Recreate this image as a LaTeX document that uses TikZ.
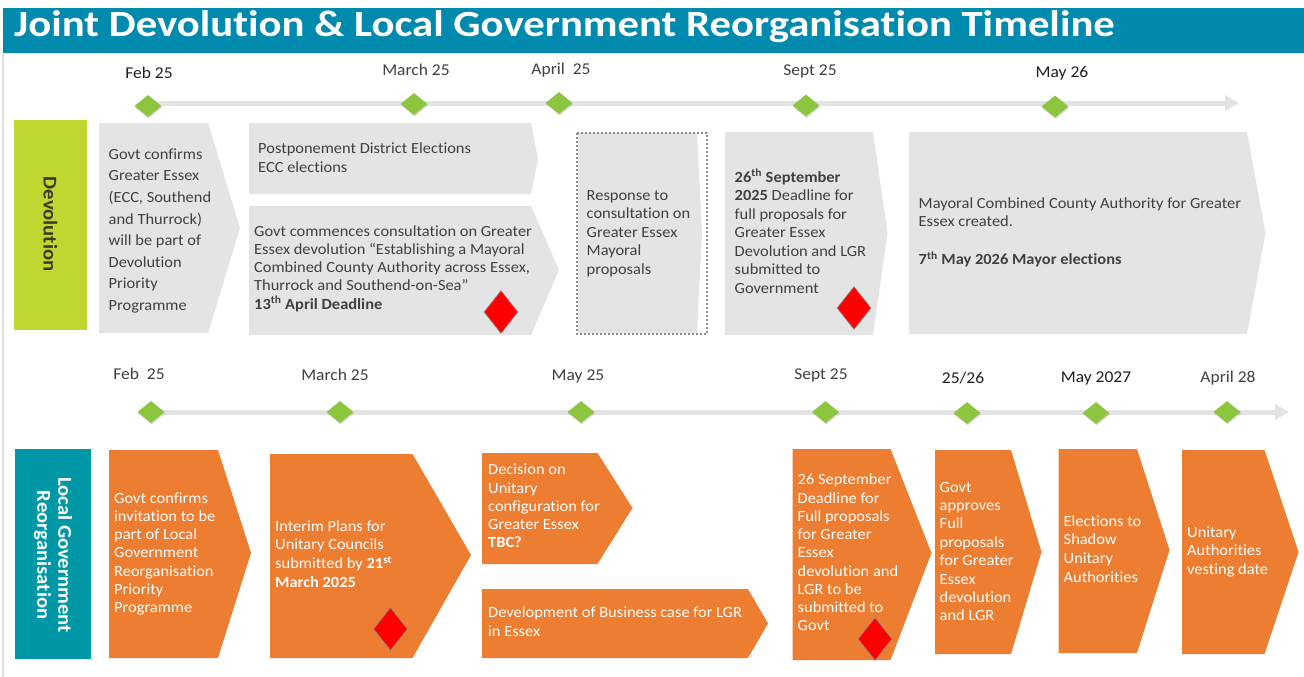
\documentclass[tikz,border=0pt]{standalone}
\usepackage{fontspec}
\setmainfont{Carlito}[FakeStretch=1.06, Ligatures=NoCommon]
\newfontfamily\titlefont{Carlito}[FakeStretch=1.155, Ligatures=NoCommon]
\usetikzlibrary{shapes.geometric,arrows.meta,shadows}
\definecolor{titleteal}{HTML}{008BAE}
\definecolor{lgrteal}{HTML}{0098A6}
\definecolor{devlime}{HTML}{BFD730}
\definecolor{orng}{HTML}{ED7D31}
\definecolor{boxgray}{HTML}{E4E4E4}
\definecolor{txtgray}{HTML}{404040}
\definecolor{darktxt}{HTML}{1F1F1F}
\definecolor{msgreen}{HTML}{8CC63F}
\definecolor{linegray}{HTML}{E3E3E3}
\definecolor{devtext}{HTML}{3E3A22}
\definecolor{dashgray}{HTML}{8C8C8C}
\tikzset{
  grayshape/.style={fill=boxgray},
  orshape/.style={fill=orng},
  gtxt/.style={anchor=north west, inner sep=0pt, align=left, text=txtgray, font=\fontsize{15.5}{18.5}\selectfont},
  otxt/.style={gtxt, text=white},
  datelbl/.style={inner sep=0pt, text=txtgray, font=\fontsize{16.5}{18}\selectfont},
  datedark/.style={datelbl, text=darktxt},
  milestone/.style={diamond, fill=msgreen, minimum width=27pt, minimum height=22pt, inner sep=0pt,
    drop shadow={shadow xshift=0.6pt, shadow yshift=-1.4pt, opacity=0.3}},
  deadline/.style={diamond, fill=red, draw=dashgray, line width=0.6pt, minimum width=34pt, minimum height=43pt, inner sep=0pt},
  tline/.style={draw=linegray, line width=5pt, -{Triangle[length=14pt,width=15pt]}},
  rowlabel/.style={rotate=-90, align=center, inner sep=0pt, font=\bfseries\fontsize{19.5}{21}\selectfont},
}
\begin{document}
\begin{tikzpicture}[x=1pt,y=-1pt]
\useasboundingbox (0,0) rectangle (1304,677);
\fill[white] (0,0) rectangle (1304,677);
% title
\fill[titleteal] (3,8.5) rectangle (1304,53);
\node[anchor=base west, inner sep=0pt, text=white, font=\titlefont\bfseries\fontsize{37}{40}\selectfont] (title) at (14,36.5) {Joint Devolution \& Local Government Reorganisation Timeline};
\draw[line width=2pt, draw=black!12] (3,53) -- (3,677);

% ---------- Devolution row ----------
\fill[devlime] (14,120) rectangle (87,330);
\node[rowlabel, text=devtext] (devlabel) at (50.5,224) {Devolution};

% top timeline
\coordinate (ts) at (148,103);
\coordinate (te) at (1239,103);
\draw[tline] (ts) -- (te);
\node[milestone] (m1) at (148,106) {};
\node[milestone] (m2) at (414,104) {};
\node[milestone] (m3) at (559,103) {};
\node[milestone] (m4) at (806,105.5) {};
\node[milestone] (m5) at (1055,106.5) {};
\node[datedark] (l1) at (149,73) {Feb 25};
\node[datelbl] (l2) at (416,70) {March 25};
\node[datelbl] (l3) at (561,70) {April\ \ 25};
\node[datelbl] (l4) at (810,71) {Sept 25};
\node[datedark] (l5) at (1062,73) {May 26};

% gray boxes
\fill[grayshape] (99,123) -- (208,123) -- (240,228) -- (208,333) -- (99,333) -- cycle;
\node[gtxt, font=\fontsize{15.5}{21.6}\selectfont] (g1) at (108.5,144) {\strut Govt confirms\\Greater Essex\\(ECC, Southend\\and Thurrock)\\will be part of\\Devolution\\Priority\\Programme};

\fill[grayshape] (249,123) -- (531,123) -- (538,159) -- (531,194) -- (249,194) -- cycle;
\node[gtxt, font=\fontsize{15.5}{19}\selectfont] (g2) at (258,140) {\strut Postponement District Elections\\ECC elections};

\fill[grayshape] (249,206) -- (531,206) -- (559,270) -- (531,335) -- (249,335) -- cycle;
\node[gtxt, font=\fontsize{15.5}{18.3}\selectfont] (g3) at (254,223) {\strut Govt commences consultation on Greater\\Essex devolution “Establishing a Mayoral\\Combined County Authority across Essex,\\Thurrock and Southend-on-Sea”\\\textbf{13\textsuperscript{th} April Deadline}};
\node[deadline] (r1) at (501,312) {};

\fill[grayshape] (578,133) -- (697,133) -- (702,233) -- (697,333) -- (578,333) -- cycle;
\draw[dashgray, line width=1.2pt, dash pattern=on 2pt off 2pt] (577,133) rectangle (707,334);
\node[gtxt] (g4) at (586.5,187) {\strut Response to\\consultation on\\Greater Essex\\Mayoral\\proposals};

\fill[grayshape] (725,132) -- (873,132) -- (887.5,233) -- (873,335) -- (725,335) -- cycle;
\node[gtxt] (g5) at (734.5,169) {\strut\textbf{26\textsuperscript{th} September}\\\textbf{2025} Deadline for\\full proposals for\\Greater Essex\\Devolution and LGR\\submitted to\\Government};
\node[deadline] (r2) at (854,308) {};

\fill[grayshape] (909,132) -- (1247,132) -- (1265.5,233) -- (1247,334) -- (909,334) -- cycle;
\node[gtxt, font=\fontsize{15.5}{18.7}\selectfont] (g6) at (918.5,195) {\strut Mayoral Combined County Authority for Greater\\Essex created.\\[18.7pt]\textbf{7\textsuperscript{th} May 2026 Mayor elections}};

% ---------- LGR row ----------
\fill[lgrteal] (15,449) rectangle (91,659);
\node[rowlabel, text=white] (lgrlabel) at (53,555) {Local Government\\Reorganisation};

\coordinate (bs) at (151,412);
\coordinate (be) at (1289,412);
\draw[tline] (bs) -- (be);
\node[milestone] (n1) at (151,412) {};
\node[milestone] (n2) at (340,412) {};
\node[milestone] (n3) at (581,412) {};
\node[milestone] (n4) at (825.5,412) {};
\node[milestone] (n5) at (967,413) {};
\node[milestone] (n6) at (1096,413) {};
\node[milestone] (n7) at (1227,412) {};
\node[datelbl] (k1) at (139,374) {Feb\ \ 25};
\node[datelbl] (k2) at (335,375) {March 25};
\node[datelbl] (k3) at (578,376.5) {May 25};
\node[datelbl] (k4) at (821,375) {Sept 25};
\node[datedark] (k5) at (963,378) {25/26};
\node[datedark] (k6) at (1096,378) {May 2027};
\node[datelbl] (k7) at (1228,378) {April 28};

\fill[orshape] (109,450) -- (218,450) -- (251,553) -- (218,658) -- (109,658) -- cycle;
\node[otxt, font=\fontsize{15.5}{18.3}\selectfont] (o1) at (114,490) {\strut Govt confirms\\invitation to be\\part of Local\\Government\\Reorganisation\\Priority\\Programme};

\fill[orshape] (270,454) -- (412.5,454) -- (471,555) -- (412.5,658) -- (270,658) -- cycle;
\node[otxt, font=\fontsize{15.5}{18.7}\selectfont] (o2) at (275,518) {\strut Interim Plans for\\Unitary Councils\\submitted by \textbf{21\textsuperscript{st}}\\\textbf{March 2025}};
\node[deadline] (r3) at (390.5,629) {};

\fill[orshape] (482,453) -- (597.5,453) -- (632.5,508) -- (597.5,564) -- (482,564) -- cycle;
\node[otxt, font=\fontsize{15.5}{18.25}\selectfont] (o3) at (488,462) {\strut Decision on\\Unitary\\configuration for\\Greater Essex\\\textbf{TBC?}};

\fill[orshape] (482,589) -- (748,589) -- (768,623.5) -- (748,658) -- (482,658) -- cycle;
\node[otxt, font=\fontsize{15.5}{19}\selectfont] (o4) at (488,604) {\strut Development of Business case for LGR\\in Essex};

\fill[orshape] (792.5,449) -- (890.5,449) -- (931.5,553) -- (890.5,660) -- (792.5,660) -- cycle;
\node[otxt, font=\fontsize{15.5}{18.25}\selectfont] (o5) at (797.5,472) {\strut 26 September\\Deadline for\\Full proposals\\for Greater\\Essex\\devolution and\\LGR to be\\submitted to\\Govt};
\node[deadline] (r4) at (875,639) {};

\fill[orshape] (935,450) -- (1011,450) -- (1041.5,552) -- (1011,654) -- (935,654) -- cycle;
\node[otxt, font=\fontsize{15.5}{18.4}\selectfont] (o6) at (939.5,479) {\strut Govt\\approves\\Full\\proposals\\for Greater\\Essex\\devolution\\and LGR};

\fill[orshape] (1058.5,449) -- (1137,449) -- (1169.5,550) -- (1137,653) -- (1058.5,653) -- cycle;
\node[otxt, font=\fontsize{15.5}{18.7}\selectfont] (o7) at (1063.5,513) {\strut Elections to\\Shadow\\Unitary\\Authorities};

\fill[orshape] (1182,450) -- (1264.5,450) -- (1298.5,552) -- (1264.5,654) -- (1182,654) -- cycle;
\node[otxt] (o8) at (1187,524) {\strut Unitary\\Authorities\\vesting date};
\end{tikzpicture}
\end{document}
